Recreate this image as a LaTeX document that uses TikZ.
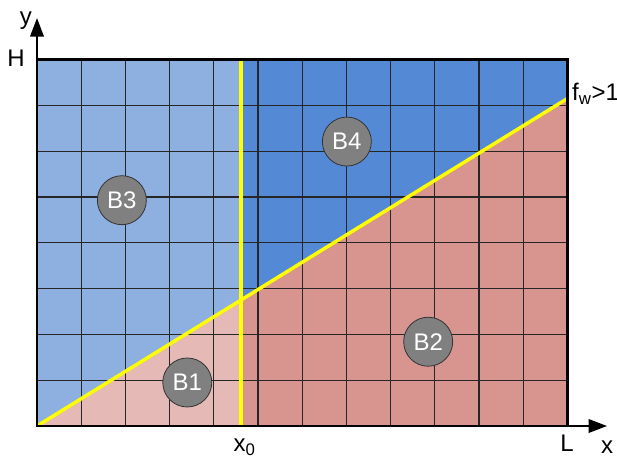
\documentclass[tikz,border=0pt]{standalone}
\usepackage{fontspec}
\setmainfont{Liberation Sans}
\usetikzlibrary{arrows.meta}
\definecolor{bluelight}{HTML}{8EB0E1}
\definecolor{bluedark}{HTML}{548AD5}
\definecolor{pinklight}{HTML}{E5B9B6}
\definecolor{pinkdark}{HTML}{D8948F}
\definecolor{wallyellow}{HTML}{FFFF00}
\begin{document}
\begin{tikzpicture}[x=33.15pt, y=34.35pt, font=\fontsize{18}{21}\selectfont,
  ball/.style={circle, draw=black!80, line width=0.6pt, fill=gray, text=white,
    minimum size=36.75pt, inner sep=0pt},
  wall/.style={wallyellow, line width=2.6pt},
  axis/.style={line width=2pt, -{Triangle[length=14pt,width=10pt]}}]
  \useasboundingbox (-0.837,-0.72) rectangle (13.122,9.301);
  \coordinate (O) at (0,0);
  \coordinate (x0) at (4.62,0);
  \coordinate (x0top) at (4.62,8);
  \coordinate (cut) at (4.62,2.75);
  \coordinate (Lbot) at (12,0);
  \coordinate (fw) at (12,7.15);
  \coordinate (Ltop) at (12,8);
  \coordinate (Htop) at (0,8);
  \coordinate (xend) at (12.9,0);
  \coordinate (yend) at (0,8.91);
  % the four zones
  \fill[bluelight] (O) -- (cut) -- (x0top) -- (Htop) -- cycle;
  \fill[pinklight] (O) -- (x0) -- (cut) -- cycle;
  \fill[bluedark] (cut) -- (fw) -- (Ltop) -- (x0top) -- cycle;
  \fill[pinkdark] (x0) -- (Lbot) -- (fw) -- (cut) -- cycle;
  \foreach \i in {1,...,11}
    \draw[black!85, line width=0.9pt] (\i,0) -- (\i,8);
  \foreach \j in {1,...,7}
    \draw[black!85, line width=0.9pt] (0,\j) -- (12,\j);
  \draw[wall] (x0) -- (x0top);
  \draw[wall] (O) -- (fw);
  \draw[line width=1.8pt] (O) rectangle (Ltop);
  \draw[axis] (O) -- (xend);
  \draw[axis] (O) -- (yend);
  % balls
  \node[ball] (b3) at (1.92,4.93) {B3};
  \node[ball] (b4) at (7.01,6.21) {B4};
  \node[ball] (b1) at (3.40,0.95) {B1};
  \node[ball] (b2) at (8.85,1.84) {B2};
  % labels
  \node (ylab) at (-0.25,8.86) {y};
  \node (hlab) at (-0.475,8.03) {H};
  \node (xlab) at (12.9,-0.46) {x};
  \node (llab) at (11.99,-0.37) {L};
  \node (x0lab) at (4.7,-0.46) {x\textsubscript{0}};
  \node[anchor=west, inner sep=0pt] (fwlab) at (12.1,7.25) {f\textsubscript{w}>1};
\end{tikzpicture}
\end{document}
